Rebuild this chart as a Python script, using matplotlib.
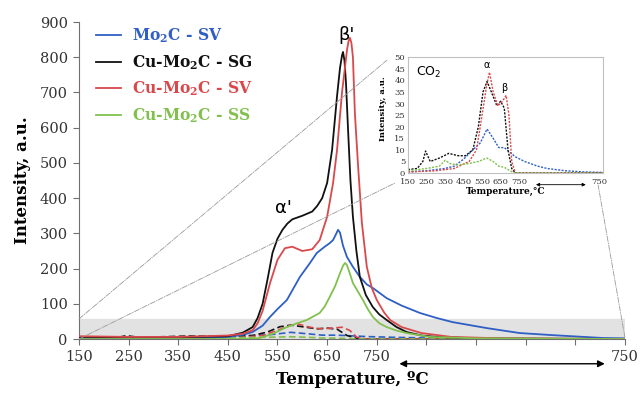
import matplotlib
matplotlib.use("Agg")
import matplotlib.pyplot as plt
from matplotlib.patches import ConnectionPatch

plt.rcParams['font.family'] = 'DejaVu Serif'
plt.rcParams['mathtext.fontset'] = 'dejavuserif'

# H2-TPR signals (solid), temperature axis continues as an isothermal hold at 750 C
t_mo = [150, 250, 350, 450, 480, 500, 520, 535, 550, 569, 595, 615, 629, 645, 655, 662, 668, 672, 676, 682, 690, 702, 715, 730, 742, 770, 800, 837, 870, 903, 972, 1038, 1105, 1205, 1250]
mo = [2, 2, 3, 6, 12, 20, 38, 63, 85, 111, 176, 215, 244, 262, 272, 281, 298, 310, 302, 265, 233, 205, 178, 155, 145, 116, 95, 74, 60, 48, 31, 17, 11, 3, 2]

t_sg = [150, 250, 350, 450, 480, 500, 510, 520, 530, 540, 550, 560, 570, 580, 600, 620, 630, 640, 650, 660, 670, 676, 680, 682, 685, 688, 692, 697, 702, 709, 716, 728, 742, 755, 770, 790, 810, 840, 870, 950, 1250]
sg = [6, 5, 5, 8, 18, 34, 60, 100, 170, 245, 285, 310, 328, 340, 350, 362, 378, 400, 443, 537, 690, 770, 805, 815, 790, 727, 600, 450, 347, 250, 176, 125, 91, 70, 54, 34, 20, 10, 6, 2, 0]

t_sv = [150, 250, 350, 450, 480, 500, 510, 520, 535, 550, 565, 580, 600, 620, 635, 650, 662, 670, 680, 690, 693, 696, 699, 702, 706, 712, 720, 730, 740, 750, 765, 777, 800, 840, 900, 1000, 1250]
sv = [8, 6, 6, 10, 15, 25, 45, 80, 159, 225, 258, 262, 250, 255, 281, 347, 443, 537, 700, 820, 845, 855, 840, 800, 640, 500, 330, 205, 145, 111, 75, 54, 34, 17, 6, 2, 0]

t_ss = [150, 450, 500, 515, 540, 569, 590, 609, 635, 645, 655, 666, 676, 682, 686, 690, 696, 702, 712, 722, 732, 742, 755, 770, 790, 810, 857, 950, 1250]
ss = [0, 0, 1, 3, 15, 34, 45, 54, 74, 92, 119, 150, 187, 208, 216, 210, 185, 159, 135, 111, 85, 63, 45, 34, 24, 17, 6, 2, 0]

# CO2 signals (dashed)
tc_mo = [150, 250, 350, 400, 450, 500, 540, 577, 610, 640, 670, 700, 730, 780, 850, 900, 1000, 1100, 1200, 1250]
co_mo = [0.5, 1, 2, 3, 6, 10, 13, 19, 15, 11, 11, 9, 7, 5, 3, 2, 1, 0.5, 0.3, 0.3]

tc_sg = [150, 200, 230, 245, 270, 320, 370, 420, 460, 500, 530, 555, 577, 600, 630, 650, 670, 690, 710, 730, 1250]
co_sg = [1.5, 2, 5, 9.5, 5, 6.5, 8.5, 7.5, 7.5, 10, 20, 35, 39.5, 35, 29, 31, 28, 10, 2, 0, 0]

tc_sv = [150, 300, 400, 480, 520, 550, 575, 590, 610, 635, 660, 680, 695, 710, 730, 1250]
co_sv = [0.5, 1, 2, 5, 10, 25, 38, 43.5, 35, 29, 31, 33.5, 25, 5, 0, 0]

tc_ss = [150, 250, 320, 350, 380, 420, 470, 530, 575, 610, 640, 670, 700, 730, 1250]
co_ss = [1, 2, 3, 5.5, 4, 3.5, 4, 5, 6.5, 5, 3, 2.5, 1, 0, 0]

labels = ["Mo$_\\mathbf{2}$C - SV", "Cu-Mo$_\\mathbf{2}$C - SG", "Cu-Mo$_\\mathbf{2}$C - SV", "Cu-Mo$_\\mathbf{2}$C - SS"]
colors = ["#2f5fc4", "#111111", "#d9494c", "#82c04e"]
xticks = [150, 250, 350, 450, 550, 650, 750, 850, 950, 1050, 1150, 1250]
xticklabels = ["150", "250", "350", "450", "550", "650", "750", "", "", "", "", "750"]
band_top = 57

h2 = [(t_mo, mo), (t_sg, sg), (t_sv, sv), (t_ss, ss)]
co2 = [(tc_mo, co_mo), (tc_sg, co_sg), (tc_sv, co_sv), (tc_ss, co_ss)]

fig = plt.figure(figsize=(6.4, 3.97), dpi=100)
ax = fig.add_axes([0.1234, 0.146, 0.853, 0.7985])

ax.axhspan(0, band_top, color="#e2e2e2", zorder=0)

for (t, v), c in zip(co2, colors):
    ax.plot(t, v, color=c, lw=1.2, ls=(0, (4, 2)), zorder=2)
for (t, v), c, lab in zip(h2, colors, labels):
    ax.plot(t, v, color=c, lw=1.3, label=lab, zorder=3)

ax.set_xlim(150, 1250)
ax.set_ylim(0, 900)
ax.set_xticks(xticks)
ax.set_xticklabels(xticklabels)
ax.set_yticks(range(0, 901, 100))
for s in ["top", "right"]:
    ax.spines[s].set_visible(False)
for s in ["left", "bottom"]:
    ax.spines[s].set_color("#707070")
ax.tick_params(colors="#707070", labelcolor="#333333", labelsize=10.5, length=4, pad=4)
ax.set_xlabel("Temperature, ºC", fontweight="bold", fontsize=12, labelpad=5)
ax.set_ylabel("Intensity, a.u.", fontweight="bold", fontsize=12, labelpad=6)

ax.annotate("", xy=(1215, -0.078), xytext=(790, -0.078), xycoords=("data", "axes fraction"),
            arrowprops=dict(arrowstyle="<|-|>", color="black", lw=1, mutation_scale=10), annotation_clip=False)

ax.text(561, 372, "α'", fontsize=13, family="DejaVu Sans", ha="center", va="center")
ax.text(690, 862, "β'", fontsize=13, family="DejaVu Sans", ha="center", va="center")

leg = ax.legend(loc="upper left", bbox_to_anchor=(0.006, 1.03), frameon=False, handlelength=1.6,
                handletextpad=0.7, labelspacing=0.5, labelcolor="linecolor",
                prop={"weight": "bold", "size": 11.2})

# CO2 inset
ins = fig.add_axes([0.6375, 0.564, 0.305, 0.292])
for (t, v), c in zip(co2, colors):
    ins.plot(t, v, color=c, lw=1.0, ls=(0, (1.5, 1)))
ins.set_xlim(150, 1204)
ins.set_ylim(0, 50)
ins.set_yticks(range(0, 51, 5))
ins.set_xticks([150, 250, 350, 450, 550, 650, 750, 1180])
ins.set_xticklabels(["150", "250", "350", "450", "550", "650", "750", "750"])
for s in ins.spines.values():
    s.set_color("#c0c0c0")
ins.tick_params(labelsize=6, length=0, pad=2, labelcolor="#333333")
ins.tick_params(axis="x", pad=3.5)
ins.set_xlabel("Temperature,°C", fontsize=6.5, fontweight="bold", labelpad=1)
ins.set_ylabel("Intensity, a.u.", fontsize=6, fontweight="bold")
ins.yaxis.set_label_coords(-0.11, 0.56)
ins.text(0.04, 0.93, "CO$_2$", transform=ins.transAxes, fontsize=9, family="DejaVu Sans", va="top",
         math_fontfamily="dejavusans")
ins.text(577, 45.5, "α", fontsize=7, family="DejaVu Sans", ha="center")
ins.text(672, 35.5, "β", fontsize=7, family="DejaVu Sans", ha="center")
ins.annotate("", xy=(1125, -0.1), xytext=(826, -0.1), xycoords=("data", "axes fraction"),
             arrowprops=dict(arrowstyle="<|-|>", color="black", lw=0.6, mutation_scale=5), annotation_clip=False)

# zoom connector lines from the shaded band to the inset
for pa, pb in [((150, 0), (-0.067, -0.086)), ((150, band_top), (-0.108, 0.974)), ((1250, 5), (0.974, -0.103))]:
    con = ConnectionPatch(xyA=pa, coordsA=ax.transData, xyB=pb, coordsB=ins.transAxes,
                          color="#999999", lw=0.6, ls="-.")
    fig.add_artist(con)

fig.savefig("out.png", dpi=100)
